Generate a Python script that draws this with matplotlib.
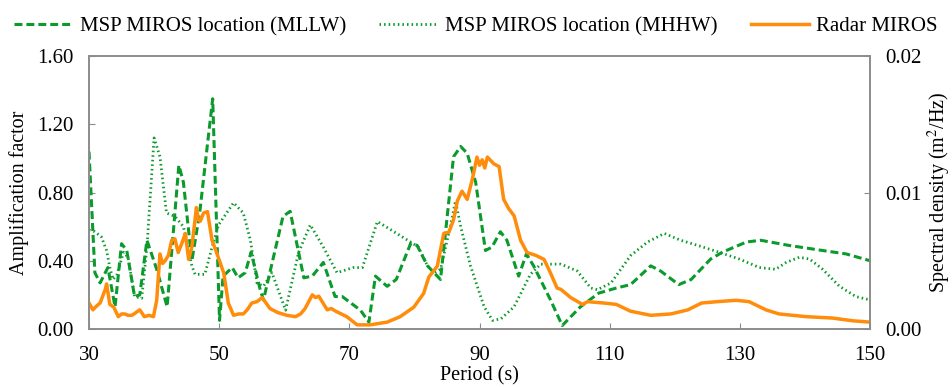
import numpy as np
import matplotlib
matplotlib.use('Agg')
from matplotlib import pyplot as plt

plt.rcParams['font.family'] = ['Liberation Serif', 'DejaVu Serif']
plt.rcParams['mathtext.fontset'] = 'stix'

# MSP MIROS location (MLLW) - amplification factor
mllw_p = [30, 30.9, 31.7, 32.9, 34, 35, 35.8, 37, 37.8, 38.9, 40.4, 42, 43.8, 44.5, 45.8, 47, 48.1, 49,
          50.05, 50.6, 52, 52.9, 54, 54.9, 56.3, 56.8, 59.8, 60.9, 63, 64.3, 66, 67.8, 68.9, 71.7, 73, 74,
          75.8, 77.2, 79.4, 80.4, 82, 84, 86, 87.1, 88.1, 89.4, 90.9, 91.9, 93.2, 94.2, 96, 97.2, 98.3,
          100.9, 102.7, 105.5, 108.3, 111, 113.2, 116.3, 117.8, 120.6, 122.5, 125.5, 127.3, 131, 133.2,
          137.5, 142.7, 146.3, 150]
mllw_v = [1.04, 0.33, 0.27, 0.36, 0.13, 0.50, 0.46, 0.19, 0.20, 0.52, 0.35, 0.13, 0.96, 0.86, 0.40, 0.68,
          1.05, 1.35, 0.05, 0.31, 0.36, 0.30, 0.33, 0.45, 0.23, 0.17, 0.66, 0.69, 0.30, 0.31, 0.39, 0.19,
          0.19, 0.11, 0.04, 0.31, 0.25, 0.29, 0.50, 0.49, 0.37, 0.29, 1.01, 1.07, 1.03, 0.86, 0.46, 0.48,
          0.57, 0.52, 0.31, 0.44, 0.37, 0.17, 0.02, 0.13, 0.21, 0.24, 0.26, 0.37, 0.34, 0.26, 0.29, 0.41,
          0.45, 0.51, 0.52, 0.49, 0.46, 0.44, 0.40]

# MSP MIROS location (MHHW) - amplification factor
mhhw_p = [30, 30.9, 31.9, 32.7, 33.2, 33.7, 34.3, 35.3, 36, 37, 38.1, 38.9, 40, 40.9, 41.9, 43.2, 44.5,
          45.8, 46.3, 47.8, 48.9, 49.9, 52.2, 53.7, 54.8, 55.8, 56.8, 58.1, 60.2, 62.2, 64, 66, 68.1, 70.6,
          72, 74.3, 79.4, 80.6, 82, 83, 84, 85.5, 86.3, 87.1, 88.6, 90.7, 92, 93.3, 95.3, 97.8, 99.4,
          102.5, 105, 107.1, 108.1, 110.2, 113.2, 115.8, 118.4, 120.9, 123.5, 126.8, 129.9, 133, 135.5,
          137.1, 139.1, 140.7, 142.7, 145.3, 147.8, 150]
mhhw_v = [0.58, 0.57, 0.54, 0.46, 0.36, 0.29, 0.32, 0.45, 0.42, 0.19, 0.18, 0.48, 1.12, 1.01, 0.68, 0.66,
          0.60, 0.37, 0.32, 0.32, 0.48, 0.61, 0.74, 0.68, 0.52, 0.27, 0.25, 0.33, 0.11, 0.45, 0.61, 0.48,
          0.33, 0.36, 0.36, 0.63, 0.51, 0.48, 0.37, 0.33, 0.35, 0.60, 0.75, 0.60, 0.37, 0.13, 0.05, 0.06,
          0.13, 0.32, 0.38, 0.38, 0.34, 0.24, 0.23, 0.27, 0.43, 0.51, 0.56, 0.52, 0.49, 0.45, 0.41, 0.36,
          0.35, 0.39, 0.42, 0.41, 0.35, 0.25, 0.19, 0.17]

# Radar MIROS - spectral density (m2/Hz)
radar_p = [30, 30.6, 31.2, 31.7, 32.5, 32.7, 33.2, 33.8, 34.5, 35, 35.5, 36, 36.6, 37.2, 37.8, 38.5, 39.2,
           39.9, 40.4, 40.9, 41.3, 41.7, 42.2, 42.7, 43.2, 43.7, 44.2, 44.8, 45.3, 45.8, 46.5, 46.8, 47.1,
           47.6, 48.2, 48.9, 49.6, 50.7, 51.4, 52.2, 53, 53.7, 54.3, 55, 55.8, 56.6, 57.8, 59, 60.4, 61.7,
           62.5, 63.2, 64.3, 64.8, 65.3, 66.6, 67.2, 67.9, 69.6, 71.2, 73.2, 75.8, 77.8, 79.9, 81.4, 82.2,
           83.5, 84.5, 85.3, 86, 86.6, 87.3, 88.1, 88.9, 89.6, 90, 90.4, 90.8, 91.2, 92.2, 93, 93.7, 94.5,
           95.3, 96.3, 97.3, 98.6, 99.9, 100.9, 101.9, 102.5, 104, 105.8, 106.6, 109.1, 111, 113.2, 116.3,
           119.4, 122, 124.1, 126.5, 129.4, 131.4, 134, 136, 140.2, 144.2, 147.3, 150]
radar_v = [0.0019, 0.0014, 0.0017, 0.0019, 0.0029, 0.0033, 0.0018, 0.0016, 0.0009, 0.0011, 0.0011,
           0.0010, 0.0010, 0.0012, 0.0014, 0.0009, 0.0010, 0.0009, 0.0021, 0.0055, 0.0048, 0.0050,
           0.0054, 0.0065, 0.0066, 0.0056, 0.0062, 0.0070, 0.0051, 0.0060, 0.0089, 0.0080, 0.0079,
           0.0085, 0.0086, 0.0065, 0.0056, 0.0041, 0.0019, 0.0010, 0.0011, 0.0011, 0.0014, 0.0019,
           0.0020, 0.0023, 0.0015, 0.0012, 0.0010, 0.0009, 0.0011, 0.0015, 0.0025, 0.0023, 0.0024,
           0.0014, 0.0015, 0.0013, 0.0009, 0.0003, 0.0003, 0.0005, 0.0009, 0.0016, 0.0026, 0.0038,
           0.0046, 0.0070, 0.0071, 0.0080, 0.0094, 0.0101, 0.0095, 0.0110, 0.0126, 0.0120, 0.0124,
           0.0118, 0.0126, 0.0121, 0.0119, 0.0095, 0.0088, 0.0083, 0.0065, 0.0056, 0.0054, 0.0051,
           0.0041, 0.0030, 0.0029, 0.0023, 0.0018, 0.0020, 0.0019, 0.0018, 0.0013, 0.0010, 0.0011,
           0.0014, 0.0019, 0.0020, 0.0021, 0.0020, 0.0014, 0.0011, 0.0009, 0.0008, 0.0006, 0.0005]

green = '#0b9a2c'
orange = '#ff8c0a'
spine_c = '#8c8c8c'

fig = plt.figure(figsize=(9.52, 3.87), dpi=100)
ax = fig.add_axes([0.0935, 0.150, 0.8205, 0.705])
ax2 = ax.twinx()

l1, = ax.plot(mllw_p, mllw_v, color=green, lw=2.2, linestyle=(0, (2.6, 1.3)),
              label='MSP MIROS location (MLLW)')
l2, = ax.plot(mhhw_p, mhhw_v, color=green, lw=2.0, linestyle=(0, (0.55, 1.1)),
              label='MSP MIROS location (MHHW)')
l3, = ax2.plot(radar_p, radar_v, color=orange, lw=2.5, label='Radar MIROS')

ax.set_xlim(30, 150)
ax.set_ylim(0, 1.6)
ax2.set_ylim(0, 0.02)
ax.set_xticks(np.arange(30, 151, 20))
ax.set_yticks([0, 0.4, 0.8, 1.2, 1.6])
ax.set_yticklabels(['0.00', '0.40', '0.80', '1.20', '1.60'])
ax2.set_yticks([0, 0.01, 0.02])
ax2.set_yticklabels(['0.00', '0.01', '0.02'])

for a in (ax, ax2):
    for s in a.spines.values():
        s.set_color(spine_c)
        s.set_linewidth(1.2)
    a.tick_params(direction='in', length=4, color=spine_c, labelsize=15, pad=11)
ax.tick_params(axis='x', pad=12)

ax.set_xlabel('Period (s)', fontsize=14.5, labelpad=1)
ax.set_ylabel('Amplification factor', fontsize=14.5, labelpad=6)
ax2.set_ylabel('Spectral density (m$^2$/Hz)', fontsize=14.5, labelpad=3)

fig.legend(handles=[l1, l2, l3], loc='upper center', bbox_to_anchor=(0.5, 1.005), ncol=3,
           frameon=False, fontsize=15, handlelength=2.8, columnspacing=1.6, handletextpad=0.35)

fig.savefig('out.png', dpi=100)
